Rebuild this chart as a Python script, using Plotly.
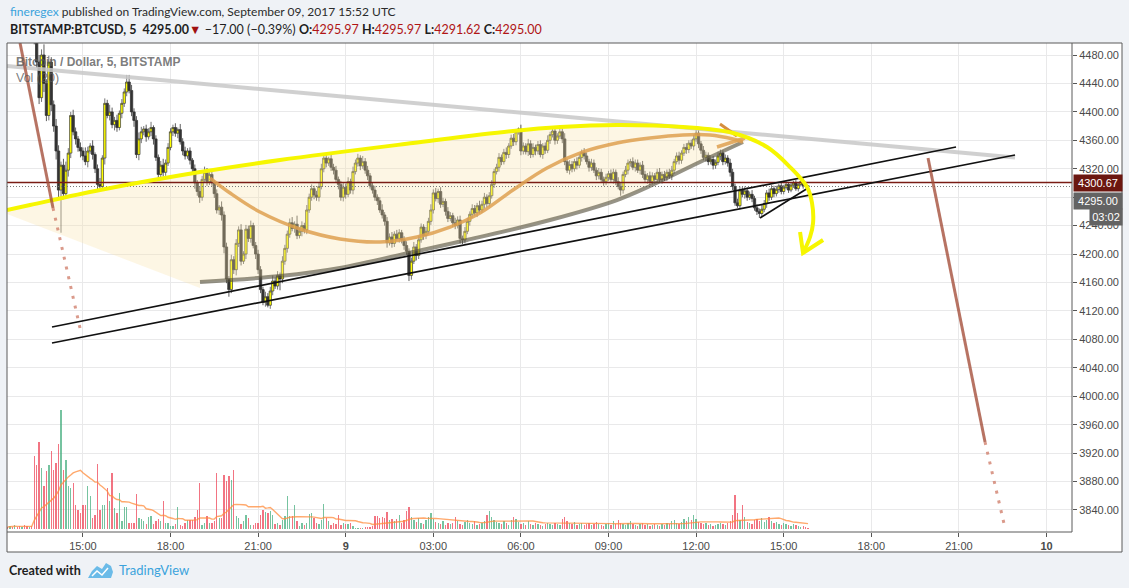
import plotly.graph_objects as go
from datetime import datetime, timedelta

# ---------------- data (5-minute BTCUSD candles) ----------------
START = datetime(2017, 9, 8, 12, 25)
FIRST_OPEN = 4550.0

closes = [
    4545, 4552, 4540, 4548, 4538, 4530, 4536,
    4528, 4520, 4525, 4512, 4505, 4470, 4420, 4480, 4440, 4395, 4470, 4410,
    4380, 4345, 4290, 4325, 4285, 4318, 4342, 4395, 4372, 4362, 4350, 4345,
    4338, 4330, 4345, 4352, 4340, 4320, 4298, 4295, 4335, 4412, 4395, 4400,
    4382, 4388, 4378, 4398, 4412, 4428, 4442, 4430, 4400, 4388, 4340, 4362,
    4372, 4376, 4365, 4372, 4378, 4362, 4336, 4312, 4325, 4315, 4328, 4350,
    4372, 4378, 4370, 4375, 4358, 4345, 4338, 4345, 4332, 4320, 4300, 4288,
    4280, 4305, 4315, 4302, 4312, 4300, 4285, 4262, 4266, 4255, 4210, 4165,
    4150, 4192, 4178, 4215, 4234, 4190, 4200, 4235, 4222, 4240, 4212, 4200,
    4178, 4150, 4132, 4140, 4128, 4148, 4162, 4155, 4170, 4165, 4190, 4208,
    4228, 4244, 4236, 4242, 4226, 4232, 4240, 4234, 4262, 4280, 4292, 4283,
    4280, 4295, 4320, 4335, 4328, 4334, 4322, 4318, 4305, 4298, 4280, 4294,
    4284, 4302, 4290, 4316, 4328, 4335, 4324, 4330, 4318, 4310, 4296, 4290,
    4280, 4275, 4262, 4255, 4246, 4216, 4224, 4215, 4228, 4222, 4230, 4220,
    4212, 4204, 4170, 4190, 4210, 4198, 4220, 4238, 4226, 4232, 4246, 4262,
    4286, 4278, 4288, 4270, 4274, 4260, 4250, 4254, 4244, 4240, 4248, 4222,
    4220, 4232, 4246, 4256, 4264, 4258, 4268, 4262, 4270, 4280, 4271, 4282,
    4298, 4316, 4322, 4336, 4330, 4343, 4340, 4352, 4363, 4358, 4372, 4376,
    4345, 4352, 4344, 4355, 4340, 4350, 4345, 4354, 4340, 4352, 4346, 4360,
    4368, 4373, 4360, 4366, 4372, 4362, 4330, 4318, 4326, 4320, 4330, 4325,
    4336, 4343, 4338, 4330, 4322, 4328, 4318, 4310, 4315, 4305, 4302, 4308,
    4313, 4305, 4315, 4302, 4295, 4290, 4312, 4318, 4328, 4330, 4322, 4328,
    4318, 4325, 4312, 4305, 4310, 4302, 4310, 4305, 4315, 4305, 4312, 4308,
    4315, 4310, 4318, 4330, 4338, 4332, 4342, 4350, 4347, 4356, 4352, 4362,
    4370, 4355, 4346, 4336, 4339, 4330, 4333, 4325, 4329, 4338, 4342, 4330,
    4335, 4328, 4315, 4295, 4272, 4268, 4290, 4284, 4289, 4280, 4284, 4278,
    4265, 4260, 4257, 4263, 4271, 4286, 4280, 4292, 4285, 4291, 4296, 4288,
    4294, 4298, 4290, 4297, 4300, 4292, 4298, 4302, 4296, 4295.97, 4295.00,
]

upper_wick = [
    6, 8, 5, 7, 4, 6, 5,
    5, 6, 4, 8, 6, 12, 10, 8, 15, 6, 9, 7,
    6, 10, 8, 5, 9, 12, 7, 5, 8, 6, 4, 7,
    5, 12, 6, 4, 8, 3, 6, 9, 4, 7, 5, 10,
    6, 5, 8, 4, 6, 5, 10, 10, 8, 5, 6, 9,
    7, 4, 6, 5, 8, 3, 5, 4, 6, 9, 5, 6,
    5, 4, 6, 3, 8, 5, 6, 4, 5, 3, 6, 4,
    7, 5, 8, 6, 4, 5, 4, 6, 3, 8, 5, 6,
    4, 7, 5, 6, 5, 8, 4, 6, 5, 7, 4, 5,
    6, 5, 4, 7, 5, 6, 8, 5, 6, 4, 7, 5,
    5, 6, 8, 4, 12, 5, 6, 4, 7, 5, 6, 4,
    6, 5, 7, 4, 6, 3, 8, 5, 6, 4, 5, 7,
    5, 6, 4, 7, 5, 6, 4, 8, 5, 6, 4, 5,
    6, 4, 5, 8, 4, 6, 5, 7, 4, 6, 5, 4,
    5, 6, 4, 5, 7, 4, 6, 5, 4, 6, 5, 8,
    5, 7, 4, 6, 5, 4, 6, 5, 4, 7, 5, 6,
    4, 6, 5, 4, 6, 5, 4, 7, 5, 6, 4, 5,
    6, 4, 5, 6, 4, 5, 7, 4, 5, 6, 4, 2,
    6, 5, 4, 7, 5, 6, 4, 5, 6, 4, 5, 7,
    4, 6, 5, 4, 6, 5, 8, 4, 6, 5, 4, 6,
    5, 4, 6, 5, 4, 6, 5, 4, 6, 5, 4, 5,
    4, 6, 5, 4, 6, 5, 4, 6, 5, 4, 6, 5,
    5, 4, 6, 5, 4, 6, 5, 4, 5, 6, 4, 5,
    4, 5, 6, 4, 5, 6, 4, 5, 6, 4, 5, 6,
    9, 5, 4, 6, 5, 4, 6, 5, 4, 6, 5, 4,
    5, 4, 6, 5, 4, 6, 5, 4, 6, 5, 4, 6,
    4, 5, 4, 6, 5, 4, 6, 5, 4, 5, 3, 4,
    3, 4, 3, 4, 3, 4, 3, 3, 4, 0.5, 0,
]

lower_wick = [
    5, 6, 7, 4, 6, 5, 6,
    6, 5, 8, 6, 10, 8, 9, 6, 12, 8, 7, 9,
    8, 12, 10, 60, 8, 6, 9, 7, 5, 8, 6, 9,
    6, 5, 8, 4, 7, 6, 8, 5, 6, 9, 4, 7,
    5, 8, 6, 4, 7, 5, 6, 4, 6, 9, 5, 8,
    6, 5, 7, 4, 6, 8, 5, 7, 4, 6, 5, 4,
    4, 6, 5, 7, 4, 6, 5, 4, 6, 5, 8, 6,
    8, 5, 4, 6, 5, 4, 6, 5, 7, 8, 9, 6,
    10, 5, 6, 8, 5, 6, 4, 7, 5, 6, 4, 7,
    6, 5, 4, 6, 3, 5, 6, 4, 5, 16, 6, 5,
    6, 5, 4, 6, 5, 4, 7, 5, 6, 4, 5, 6,
    5, 6, 4, 5, 6, 4, 5, 6, 4, 7, 5, 6,
    6, 4, 5, 6, 4, 5, 6, 4, 5, 6, 4, 5,
    5, 6, 4, 5, 6, 7, 4, 6, 5, 4, 6, 5,
    6, 5, 8, 6, 4, 7, 5, 4, 6, 5, 4, 5,
    5, 4, 6, 5, 4, 6, 5, 4, 6, 5, 4, 7,
    6, 5, 4, 6, 5, 4, 6, 5, 4, 6, 5, 4,
    4, 5, 4, 6, 5, 4, 6, 5, 4, 6, 5, 4,
    6, 5, 4, 6, 5, 4, 6, 5, 4, 6, 5, 4,
    5, 4, 6, 5, 4, 6, 5, 4, 6, 5, 4, 6,
    4, 6, 5, 4, 6, 5, 4, 6, 5, 4, 6, 5,
    5, 4, 6, 5, 4, 8, 5, 4, 6, 5, 4, 6,
    4, 6, 5, 4, 6, 5, 4, 6, 5, 4, 6, 5,
    5, 4, 6, 5, 4, 6, 5, 4, 6, 5, 4, 6,
    4, 6, 5, 4, 6, 5, 4, 6, 5, 4, 6, 5,
    4, 5, 6, 5, 4, 3, 5, 4, 6, 5, 4, 5,
    4, 5, 6, 5, 4, 6, 5, 4, 5, 4, 5, 4,
    4, 3, 4, 3, 4, 3, 4, 3, 4, 1, 3.38,
]

volumes = [
    2, 3, 2, 4, 2, 3, 2,
    4, 3, 2, 3, 73, 64, 87, 61, 43, 58, 64, 78,
    59, 66, 85, 119, 59, 69, 43, 41, 46, 24, 19, 16,
    24, 24, 43, 33, 11, 14, 65, 19, 24, 24, 41, 28,
    56, 21, 16, 36, 8, 22, 22, 6, 6, 6, 35, 11,
    10, 8, 5, 12, 13, 5, 8, 10, 8, 28, 6, 6,
    3, 3, 5, 22, 4, 3, 6, 9, 9, 9, 12, 19,
    46, 4, 6, 13, 6, 6, 8, 56, 11, 11, 54, 48,
    53, 49, 59, 13, 11, 5, 8, 14, 11, 4, 4, 6,
    6, 14, 19, 17, 16, 18, 14, 5, 6, 4, 9, 13,
    33, 13, 13, 24, 8, 3, 6, 4, 6, 15, 16, 11,
    6, 5, 9, 25, 11, 8, 4, 6, 5, 14, 4, 6,
    5, 5, 6, 3, 1, 1, 1, 1, 2, 2, 2, 3,
    13, 13, 11, 12, 11, 17, 9, 10, 8, 10, 14, 6,
    9, 18, 22, 12, 9, 7, 11, 6, 5, 9, 12, 16,
    10, 7, 6, 5, 8, 4, 6, 5, 6, 12, 8, 5,
    4, 7, 9, 6, 5, 8, 4, 5, 6, 8, 14, 18,
    12, 9, 7, 6, 5, 8, 6, 4, 9, 12, 10, 7,
    5, 6, 4, 8, 5, 4, 6, 5, 4, 3, 5, 6,
    5, 4, 6, 5, 4, 10, 12, 8, 6, 5, 7, 4,
    5, 6, 4, 5, 6, 4, 5, 7, 5, 4, 3, 5,
    6, 4, 8, 5, 9, 6, 5, 4, 6, 8, 5, 4,
    3, 5, 6, 4, 5, 3, 4, 5, 4, 3, 5, 4,
    6, 5, 8, 9, 6, 5, 7, 10, 8, 12, 9, 14,
    10, 7, 6, 5, 6, 4, 5, 3, 4, 5, 6, 5,
    4, 6, 8, 14, 34, 16, 9, 24, 12, 7, 6, 5,
    9, 10, 8, 11, 7, 9, 12, 8, 6, 7, 5, 4,
    6, 5, 4, 3, 5, 4, 3, 2, 3, 2, 1,
]

# axis ticks (the 4280 label is hidden behind the last-price tag, as on the original)
price_ticks = [3840, 3880, 3920, 3960, 4000, 4040, 4080, 4120, 4160, 4200,
               4240, 4280, 4320, 4360, 4400, 4440, 4480]
hidden_price_labels = [4280]
time_tick_hours = [15, 18, 21, 24, 27, 30, 33, 36, 39, 42, 45, 48]   # hours after Sep 8 00:00
time_tick_text = ["15:00", "18:00", "21:00", "<b>9</b>", "03:00", "06:00", "09:00",
                  "12:00", "15:00", "18:00", "21:00", "<b>10</b>"]

LEVEL_LINE = 4300.67
LAST_PRICE = 4295.00
VOL_MA_LEN = 20

# hand drawings on the chart: (minutes after Sep 8 15:00, price)
T0 = datetime(2017, 9, 8, 15, 0)
grey_line = [(-156, 4464.5), (1915.3, 4335.7)]
black_a = [(-63.5, 4097.4), (1794.1, 4350.6)]
black_b = [(-63.5, 4074.9), (1915.3, 4339.3)]
black_short = [(1391.3, 4250.7), (1490.0, 4292.9)]
yellow_arc = [(-156, 4262.0), (-108.7, 4269.0), (35.1, 4290.1), (240.6, 4315.4), (405.0, 4332.3),
              (678.3, 4356.2), (883.7, 4373.1), (980.5, 4378.7), (1097.4, 4381.5), (1233.0, 4378.7),
              (1335.8, 4370.3), (1405.7, 4350.6), (1453.0, 4322.4), (1488.0, 4294.3),
              (1498.2, 4271.8), (1500.3, 4243.7), (1494.1, 4224.0), (1479.7, 4201.5)]
yellow_head = [(1473.6, 4231.0), (1479.7, 4201.5), (1520.9, 4219.8)]
tan_arc = [(261.2, 4306.9), (302.3, 4285.9), (363.9, 4259.1), (446.1, 4235.2), (528.3, 4221.2),
           (610.5, 4217.0), (686.5, 4224.0), (754.3, 4238.0), (815.9, 4257.7), (883.7, 4290.1),
           (953.6, 4321.0), (1027.6, 4343.6), (1097.4, 4356.2), (1165.2, 4363.2), (1233.0, 4367.5),
           (1288.5, 4367.5), (1335.8, 4361.8), (1356.3, 4357.6)]
tan_tail = [(1302.9, 4350.6), (1360.5, 4363.2)]
orange_tick = [(1309.1, 4382.9), (1344.0, 4366.1)]
dark_arc = [(240.6, 4160.7), (405.0, 4169.1), (528.3, 4180.4), (678.3, 4202.9), (789.3, 4219.8),
            (959.8, 4247.9), (1097.4, 4276.0), (1165.2, 4295.7), (1268.0, 4329.5), (1356.3, 4357.6)]
fill_area = ([(-156, 4262.0), (-108.7, 4269.0), (35.1, 4290.1), (240.6, 4315.4), (405.0, 4332.3),
              (678.3, 4356.2), (883.7, 4373.1), (980.5, 4378.7), (1097.4, 4381.5), (1233.0, 4378.7),
              (1335.8, 4370.3), (1360.5, 4364.7), (1360.5, 4357.6)]
             + dark_arc[::-1][1:] + [(240.6, 4152.2), (-156, 4256.3)])
brown_left = [(-129.2, 4496.9), (-61.4, 4264.8)]
brown_left_dots = [(-61.4, 4264.8), (-6.0, 4096.0)]
brown_right = [(1736.6, 4335.1), (1853.7, 3935.6)]
brown_right_dots = [(1853.7, 3935.6), (1894.8, 3814.6)]

# ---------------- derived ----------------
n = len(closes)
times = [START + timedelta(minutes=5 * i) for i in range(n)]
opens = [FIRST_OPEN] + closes[:-1]
highs = [max(o, c) + u for o, c, u in zip(opens, closes, upper_wick)]
lows = [min(o, c) - d for o, c, d in zip(opens, closes, lower_wick)]
vol_colors = ["rgba(60,170,120,0.7)" if c >= o else "rgba(238,70,88,0.75)"
              for o, c in zip(opens, closes)]
vol_ma = []
for i in range(n):
    w = volumes[max(0, i - VOL_MA_LEN + 1): i + 1]
    vol_ma.append(sum(w) / len(w))


def tl(points):
    return [T0 + timedelta(minutes=m) for m, _ in points], [p for _, p in points]


# pixel -> paper helpers for page decorations
L, R, T, B = 7, 1072, 43, 532


def px(x):
    return (x - L) / (R - L)


def py(y):
    return (B - y) / (B - T)


fig = go.Figure()

# pale triangle / arc fill
fx, fy = tl(fill_area)
fig.add_trace(go.Scatter(x=fx, y=fy, mode="lines", fill="toself",
                         fillcolor="rgba(250,228,170,0.32)", line=dict(width=0),
                         hoverinfo="skip"))

# candles
fig.add_trace(go.Candlestick(
    x=times, open=opens, high=highs, low=lows, close=closes,
    increasing=dict(fillcolor="#ffff00", line=dict(color="#3a3a3a", width=0.7)),
    decreasing=dict(fillcolor="#333333", line=dict(color="#333333", width=0.8)),
    whiskerwidth=0, hoverinfo="skip"))


def add_line(points, color, width, dash=None, shape="linear"):
    x, y = tl(points)
    fig.add_trace(go.Scatter(x=x, y=y, mode="lines",
                             line=dict(color=color, width=width, dash=dash, shape=shape),
                             hoverinfo="skip"))


t_first, t_last = datetime(2017, 9, 8, 12, 24, 2), datetime(2017, 9, 10, 0, 52, 24)
# level line and last-price line
fig.add_trace(go.Scatter(x=[t_first, t_last], y=[LEVEL_LINE, LEVEL_LINE], mode="lines",
                         line=dict(color="#7a1c14", width=1.6), hoverinfo="skip"))
fig.add_trace(go.Scatter(x=[t_first, t_last], y=[LAST_PRICE, LAST_PRICE], mode="lines",
                         line=dict(color="#777777", width=1, dash="1px,2px"), hoverinfo="skip"))

add_line(grey_line, "rgba(200,200,200,0.85)", 4)
add_line(dark_arc, "rgba(85,80,62,0.62)", 4, shape="spline")
add_line(tan_arc, "rgba(222,160,80,0.85)", 3.5, shape="spline")
add_line(tan_tail, "rgba(222,160,80,0.85)", 3.5)
add_line(orange_tick, "rgba(210,130,40,0.9)", 3)
add_line(black_a, "#111111", 1.7)
add_line(black_b, "#111111", 1.7)
add_line(black_short, "#111111", 1.7)
add_line(yellow_arc, "#f6f600", 4, shape="spline")
add_line(yellow_head, "#f6f600", 4)
add_line(brown_left, "rgba(165,80,60,0.8)", 3)
add_line(brown_left_dots, "rgba(205,120,100,0.75)", 3, dash="3px,7px")
add_line(brown_right, "rgba(165,80,60,0.8)", 3)
add_line(brown_right_dots, "rgba(205,120,100,0.75)", 3, dash="3px,7px")

# volume + MA (overlay axis)
fig.add_trace(go.Bar(x=times, y=volumes, marker=dict(color=vol_colors, line=dict(width=0)),
                     width=5 * 60 * 1000 * 0.55, yaxis="y2", hoverinfo="skip"))
fig.add_trace(go.Scatter(x=times, y=vol_ma, mode="lines", yaxis="y2",
                         line=dict(color="rgba(255,140,60,0.75)", width=1.4), hoverinfo="skip"))

AX_FONT = dict(family="Liberation Sans, Arial, sans-serif", size=11, color="#4a4a4a")
tick_dates = [datetime(2017, 9, 8) + timedelta(hours=h) for h in time_tick_hours]

fig.update_layout(
    width=1129, height=588,
    margin=dict(l=L, r=1129 - R, t=T, b=588 - B, pad=0),
    paper_bgcolor="#eff2f6", plot_bgcolor="#ffffff",
    showlegend=False, hovermode=False, bargap=0, boxgap=0.05, boxgroupgap=0,
    xaxis=dict(type="date", range=[t_first, t_last], rangeslider=dict(visible=False),
               tickvals=tick_dates, ticktext=time_tick_text, ticks="outside", ticklen=4,
               tickcolor="#555555", tickfont=AX_FONT, showgrid=True, gridcolor="#e9e9ea",
               gridwidth=1, zeroline=False, showline=False),
    yaxis=dict(side="right", range=[3809.0, 4496.9], tickvals=price_ticks,
               ticktext=["" if v in hidden_price_labels else f"{v:.2f}" for v in price_ticks],
               ticks="outside", ticklen=4,
               tickcolor="#555555", tickfont=AX_FONT, showgrid=True, gridcolor="#e9e9ea",
               gridwidth=1, zeroline=False, showline=False),
    yaxis2=dict(overlaying="y", range=[-3, 486], visible=False, fixedrange=True),
)

shapes = [
    dict(type="rect", xref="paper", yref="paper", x0=px(7), x1=px(1122), y0=py(43), y1=py(552),
         fillcolor="#ffffff", line=dict(width=0), layer="below"),
    dict(type="rect", xref="paper", yref="paper", x0=px(7), x1=px(1122), y0=py(43), y1=py(552),
         line=dict(color="#5a5a5a", width=1)),
    dict(type="line", xref="paper", yref="paper", x0=1, x1=1, y0=0, y1=1,
         line=dict(color="#5a5a5a", width=1)),
    dict(type="line", xref="paper", yref="paper", x0=0, x1=1, y0=0, y1=0,
         line=dict(color="#5a5a5a", width=1)),
    # TradingView cloud logo
    dict(type="path", xref="paper", yref="paper",
         path="M {} {} L {} {} L {} {} L {} {} L {} {} L {} {} L {} {} L {} {} Z".format(
             px(88), py(578), px(92), py(571), px(97), py(566), px(102), py(569),
             px(106), py(563), px(111), py(566), px(113), py(572), px(111), py(578)),
         fillcolor="#6bbbe8", line=dict(width=0)),
    dict(type="path", xref="paper", yref="paper",
         path="M {} {} L {} {} L {} {} L {} {}".format(
             px(92), py(576), px(97), py(571), px(102), py(575), px(108), py(568)),
         line=dict(color="#ffffff", width=1.5)),
]
fig.update_layout(shapes=shapes)

HDR = "Lato, 'Open Sans', sans-serif"
ann = [
    dict(x=px(8), y=py(11), xref="paper", yref="paper", xanchor="left", yanchor="middle",
         showarrow=False, font=dict(family=HDR, size=12, color="#2b2b2b"),
         text='<span style="color:#3ba3dc">fineregex</span> published on TradingView.com, '
              'September 09, 2017 15:52 UTC'),
    dict(x=px(8), y=py(29), xref="paper", yref="paper", xanchor="left", yanchor="middle",
         showarrow=False, font=dict(family=HDR, size=12.5, color="#1e1e1e"),
         text='<b>BITSTAMP:BTCUSD, 5  4295.00</b><span style="color:#a01010">▼</span> '
              '−17.00 (−0.39%) <b>O:</b><span style="color:#b01515">4295.97</span> '
              '<b>H:</b><span style="color:#b01515">4295.97</span> '
              '<b>L:</b><span style="color:#b01515">4291.62</span> '
              '<b>C:</b><span style="color:#b01515">4295.00</span>'),
    dict(x=px(14), y=py(62), xref="paper", yref="paper", xanchor="left", yanchor="middle",
         showarrow=False, font=dict(family="Liberation Sans, Arial", size=12,
                                    color="rgba(90,90,90,0.8)"),
         text="<b>Bitcoin / Dollar, 5, BITSTAMP</b>"),
    dict(x=px(14), y=py(78), xref="paper", yref="paper", xanchor="left", yanchor="middle",
         showarrow=False, font=dict(family="Liberation Sans, Arial", size=12.5,
                                    color="rgba(90,90,90,0.8)"),
         text="Vol (20)"),
    dict(x=px(7), y=py(570), xref="paper", yref="paper", xanchor="left", yanchor="middle",
         showarrow=False, font=dict(family=HDR, size=12.5, color="#1e1e1e"),
         text="<b>Created with</b>"),
    dict(x=px(117), y=py(570), xref="paper", yref="paper", xanchor="left", yanchor="middle",
         showarrow=False, font=dict(family=HDR, size=13, color="#3ba3dc"),
         text="TradingView"),
    # price-scale labels
    dict(x=1, y=LEVEL_LINE, xref="paper", yref="y", xanchor="left", yanchor="middle",
         xshift=1, yshift=-1, showarrow=False, bgcolor="#6b1710", width=46, height=14,
         font=dict(family="Liberation Sans, Arial", size=11, color="#ffffff"),
         text=f"{LEVEL_LINE:.2f}"),
    dict(x=1, y=LAST_PRICE, xref="paper", yref="y", xanchor="left", yanchor="middle",
         xshift=1, yshift=-14, showarrow=False, bgcolor="#636363", width=46, height=14,
         font=dict(family="Liberation Sans, Arial", size=11, color="#ffffff"),
         text=f"{LAST_PRICE:.2f}"),
    dict(x=1, y=LAST_PRICE, xref="paper", yref="y", xanchor="left", yanchor="middle",
         xshift=17, yshift=-30, showarrow=False, bgcolor="#636363", width=30, height=14,
         font=dict(family="Liberation Sans, Arial", size=11, color="#ffffff"),
         text="03:02"),
]
fig.update_layout(annotations=ann)

fig.write_html("out.html", config={"displayModeBar": False})

# remove the default page margin so the figure sits at the window's top-left corner
with open("out.html", encoding="utf-8") as f:
    html = f.read()
html = html.replace("<head>", "<head><style>html,body{margin:0;padding:0;overflow:hidden;}</style>", 1)
with open("out.html", "w", encoding="utf-8") as f:
    f.write(html)
